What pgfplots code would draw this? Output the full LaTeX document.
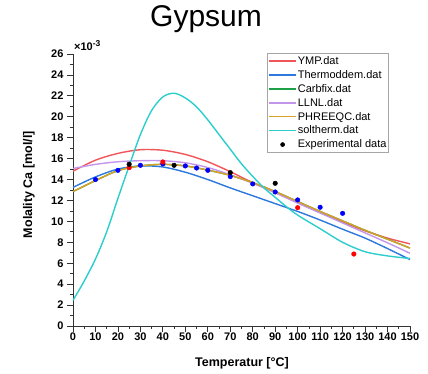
\documentclass[border=0pt]{standalone}
\usepackage{pgfplots}
\pgfplotsset{compat=1.18}
\usepackage{fontspec}
\setmainfont{Liberation Sans}
\definecolor{ymp}{RGB}{240,85,90}
\definecolor{thermo}{RGB}{45,120,220}
\definecolor{carbfix}{RGB}{30,160,70}
\definecolor{llnl}{RGB}{195,150,235}
\definecolor{phreeqc}{RGB}{215,160,40}
\definecolor{soltherm}{RGB}{45,205,205}
\begin{document}
\begin{tikzpicture}
\path[use as bounding box] (-73pt,-48pt) rectangle (355pt,326pt);
\begin{axis}[
  at={(0pt,0pt)}, anchor=south west,
  scale only axis, width=337pt, height=272pt,
  xmin=0, xmax=150, ymin=0, ymax=26,
  axis lines=left, axis line style={-, line width=0.8pt, black!80},
  xtick={0,10,...,150}, ytick={0,2,...,26},
  minor x tick num=1, minor y tick num=1,
  tick align=outside, major tick length=6pt, minor tick length=3pt,
  tick style={line width=0.8pt, black!80},
  /pgf/number format/assume math mode=true,
  ticklabel style={font=\bfseries\fontsize{11}{13}\selectfont},
  xticklabel style={inner sep=1pt},
  title={Gypsum},
  title style={at={(axis description cs:0.3947,1)}, anchor=base, yshift=21pt, font=\fontsize{30}{36}\selectfont},
  xlabel={Temperatur [°C]},
  xlabel style={at={(axis description cs:0.5015,0)}, anchor=base, yshift=-41pt, font=\bfseries\fontsize{12.5}{15}\selectfont},
  ylabel={Molality Ca [mol/l]},
  ylabel style={at={(axis description cs:-0.1306,0.520)}, anchor=center, rotate=0, font=\bfseries\fontsize{12.5}{15}\selectfont},
  legend cell align=left,
  legend style={at={(axis description cs:0.576,1.004)}, anchor=north west, draw=black!35, line width=0.6pt,
    font=\fontsize{11}{13}\selectfont, inner xsep=1pt, inner ysep=1pt, row sep=0pt,
    nodes={inner sep=1pt, text height=9.2pt, text depth=2.7pt}},
  legend image code/.code={\draw[#1, line width=1.4pt] (0pt,0pt) -- (27pt,0pt);},
  clip mode=individual,
]
\addplot[ymp, smooth, line width=1.4pt] coordinates {(0,14.8) (10,15.85) (20,16.5) (30,16.85) (40,16.8) (50,16.4) (60,15.7) (70,14.75) (80,13.7) (90,12.75) (100,11.8) (110,10.85) (120,9.95) (130,9.1) (140,8.4) (150,7.85)};
\addlegendentry{YMP.dat}
\addplot[thermo, smooth, line width=1.4pt] coordinates {(0,13.25) (10,14.25) (20,15.0) (30,15.3) (40,15.2) (50,14.7) (60,14.0) (70,13.2) (80,12.45) (90,11.7) (100,10.95) (110,10.13) (120,9.25) (130,8.4) (140,7.4) (150,6.35)};
\addlegendentry{Thermoddem.dat}
\addplot[carbfix, smooth, line width=1.4pt] coordinates {(0,12.85) (10,13.9) (20,14.85) (30,15.3) (40,15.45) (50,15.3) (60,14.9) (70,14.4) (80,13.7) (90,12.85) (100,11.9) (110,10.95) (120,10.05) (130,9.15) (140,8.3) (150,7.45)};
\addlegendentry{Carbfix.dat}
\addplot[llnl, smooth, line width=1.4pt] coordinates {(0,15.05) (10,15.45) (20,15.7) (30,15.8) (40,15.8) (50,15.6) (60,15.15) (70,14.45) (80,13.65) (90,12.75) (100,11.75) (110,10.8) (120,9.85) (130,8.9) (140,7.95) (150,6.95)};
\addlegendentry{LLNL.dat}
\addplot[phreeqc, smooth, line width=1.4pt] coordinates {(0,12.85) (10,13.9) (20,14.85) (30,15.3) (40,15.45) (50,15.3) (60,14.9) (70,14.4) (80,13.7) (90,12.85) (100,11.9) (110,10.95) (120,10.05) (130,9.15) (140,8.3) (150,7.45)};
\addlegendentry{PHREEQC.dat}
\addplot[soltherm, smooth, line width=1.4pt] coordinates {(0,2.45) (5,4.3) (10,6.4) (15,9.0) (20,12.2) (25,15.3) (30,18.3) (35,20.6) (40,21.9) (45,22.25) (50,21.8) (55,20.95) (60,19.7) (65,18.3) (70,16.9) (75,15.5) (80,14.3) (85,13.2) (90,12.3) (95,11.4) (100,10.6) (110,9.3) (120,8.0) (130,7.1) (140,6.7) (150,6.45)};
\addlegendentry{soltherm.dat}
\addplot[only marks, mark=*, mark size=2.3pt, blue, forget plot] coordinates {(10,14.0) (20,14.88) (30,15.36) (40,15.5) (50,15.3) (55,15.1) (60,14.88) (70,14.28) (80,13.58) (90,12.81) (100,12.05) (110,11.35) (120,10.77)};
\addplot[only marks, mark=*, mark size=2.3pt, red, forget plot] coordinates {(25,15.13) (40,15.68) (100,11.31) (125,6.88)};
\addplot[only marks, mark=*, mark size=2.3pt, black,
  legend image code/.code={\fill[black] (13.5pt,0pt) circle (2pt);}] coordinates {(25,15.46) (45,15.36) (70,14.66) (90,13.64)};
\addlegendentry{Experimental data}
\node[anchor=base west, font=\bfseries\fontsize{11}{12}\selectfont, inner sep=0pt] at (rel axis cs:0,1) [yshift=3.5pt, xshift=1pt] {×10\raisebox{3.5pt}{\fontsize{8.5}{9}\selectfont -3}};
\end{axis}
\end{tikzpicture}
\end{document}
